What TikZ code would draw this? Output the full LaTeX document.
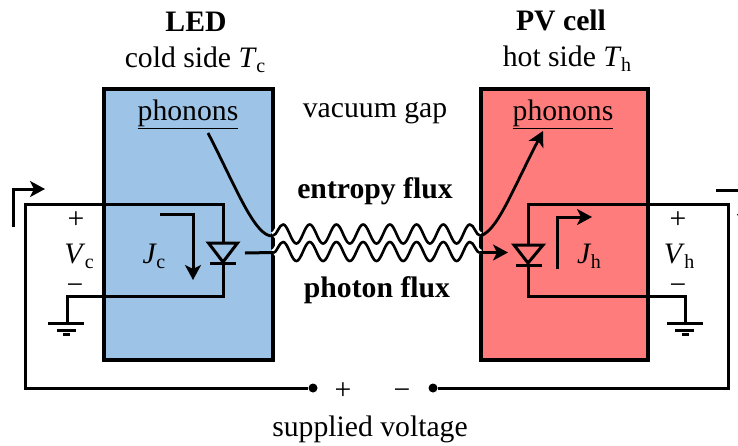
\documentclass[tikz,border=0pt]{standalone}
\usepackage{fontspec}
\setmainfont{Liberation Serif}
\usetikzlibrary{arrows.meta}
\definecolor{ledblue}{RGB}{157,195,230}
\definecolor{pvred}{RGB}{255,124,124}
\newcommand{\qtysym}[2]{\textit{#1}\kern-0.5pt\raisebox{-5pt}{\fontsize{20}{22}\selectfont #2}}
\tikzset{
  panel/.style={draw=black,line width=3.4pt,minimum height=0pt},
  wire/.style={line width=3pt,line cap=butt,line join=miter},
  flow/.style={line width=3pt,-{Stealth[length=15pt,width=16pt,inset=4pt]}},
  curve/.style={line width=2.8pt},
  wave/.style={line width=2.6pt,line join=round},
  halo/.style={line width=7pt,white},
  lbl/.style={anchor=base,inner sep=0pt,font=\fontsize{29.7}{33}\selectfont},
  blbl/.style={lbl,font=\fontsize{29.7}{33}\selectfont\bfseries},
  dot/.style={circle,fill=black,inner sep=0pt,minimum size=9pt}
}
\newcommand{\wavepath}[1]{(273,#1+1.5) .. controls (277,#1+1.5) and (279,#1-9.5) .. (283,#1-9.5)
  -- plot[domain=283:470,samples=220] (\x,{#1-9.5*cos(13.478*(\x-283))})
  .. controls (474,#1-9.5) and (476,#1+1.5) .. (480,#1+1.5)}
\begin{document}
\begin{tikzpicture}[x=1pt,y=-1pt]
\useasboundingbox (0,0) rectangle (738,445);
\clip (0,0) rectangle (738,445);
% panels
\node[panel,fill=ledblue,minimum width=169pt,minimum height=271pt,inner sep=0pt] (led) at (188.5,224.5) {};
\node[panel,fill=pvred,minimum width=167pt,minimum height=271pt,inner sep=0pt] (pv) at (564.5,224.5) {};
% coordinates
\coordinate (ltop) at (223,204); \coordinate (lbot) at (223,296);
\coordinate (lgnd) at (67,296); \coordinate (lg1) at (67,323.5);
\coordinate (ldA) at (223,243); \coordinate (ldK) at (223,263.5);
\coordinate (rtop) at (528,204); \coordinate (rbot) at (528,296);
\coordinate (rgnd) at (685,296); \coordinate (rg1) at (685,323.5);
\coordinate (rdA) at (528,245); \coordinate (rdK) at (528,265);
\coordinate (lcorner) at (25,204); \coordinate (lcorner2) at (25,388);
\coordinate (rcorner) at (728,204); \coordinate (rcorner2) at (728,388);
\node[dot] (dotL) at (313,388) {};
\node[dot] (dotR) at (433,388) {};
% circuit left
\draw[wire] (ldA) -- (ltop) -- (lcorner) -- (lcorner2) -- (dotL);
\draw[wire] (ldK) -- (lbot) -- (lgnd) -- (lg1);
\draw[wire,line join=miter] (208.5,243) -- (237.5,243) -- (223,262) -- cycle;
\draw[wire] (210,263.5) -- (236,263.5);
\draw[wire] (48,323.5) -- (84,323.5);
\draw[wire] (57,330) -- (76,330);
\draw[wire] (63,334.5) -- (70,334.5);
% circuit right
\draw[wire] (rdA) -- (rtop) -- (rcorner) -- (rcorner2) -- (dotR);
\draw[wire] (rdK) -- (rbot) -- (rgnd) -- (rg1);
\draw[wire,line join=miter] (514,245) -- (543,245) -- (528,263) -- cycle;
\draw[wire] (516,265) -- (542,265);
\draw[wire] (667,323.5) -- (703,323.5);
\draw[wire] (675,330) -- (694,330);
\draw[wire] (682,334.5) -- (689,334.5);
% current arrows
\coordinate (a1) at (13,227); \coordinate (a1b) at (13,189); \coordinate (a1c) at (45,189);
\draw[flow] (a1) -- (a1b) -- (a1c);
\coordinate (j1) at (160,214); \coordinate (j1b) at (193,214); \coordinate (j1c) at (193,280);
\draw[flow] (j1) -- (j1b) -- (j1c);
\coordinate (j2) at (557,269); \coordinate (j2b) at (557,217); \coordinate (j2c) at (592,217);
\draw[flow] (j2) -- (j2b) -- (j2c);
\coordinate (a2) at (716,190); \coordinate (a2b) at (745,190); \coordinate (a2c) at (745,229);
\draw[flow] (a2) -- (a2b) -- (a2c);
% waves
\draw[halo] \wavepath{234};
\draw[wave] \wavepath{234};
\draw[halo] \wavepath{251.5};
\draw[wave] \wavepath{251.5};
% phonon curves
\coordinate (pL) at (208,133); \coordinate (wL) at (273,236);
\coordinate (wR) at (480,236); \coordinate (pR) at (543,131);
\draw[curve] (pL) .. controls (235,185) and (255,238) .. (wL);
\draw[curve,-{Stealth[length=15pt,width=16pt,inset=4pt]}] (wR) .. controls (497,231) and (510,195) .. (pR);
% photon lines
\coordinate (in1) at (245,253); \coordinate (in2) at (273,252.5);
\coordinate (ph1) at (480,252.5); \coordinate (ph2) at (508,252.5);
\draw[wire] (in1) -- (in2);
\draw[flow] (ph1) -- (ph2);
% labels
\node[blbl] (t1) at (196,31) {LED};
\node[lbl] (t2) at (195,67) {cold side \qtysym{T}{c}};
\node[blbl] (t3) at (561,30) {PV cell};
\node[lbl] (t4) at (567,66) {hot side \qtysym{T}{h}};
\node[lbl] (t5) at (188,120) {\underline{phonons}};
\node[lbl] (t6) at (563,120) {\underline{phonons}};
\node[lbl] (t7) at (375,117) {vacuum gap};
\node[blbl] (t8) at (375,198) {entropy flux};
\node[blbl] (t9) at (377,297) {photon flux};
\node[lbl] (t10) at (370,436) {supplied voltage};
\node[lbl] (v1) at (76,228) {+};
\node[lbl] (v2) at (79,263) {\qtysym{V}{c}};
\node[lbl] (v3) at (75,294) {−};
\node[lbl] (v4) at (154,263) {\qtysym{J}{c}};
\node[lbl] (v5) at (589,263) {\qtysym{J}{h}};
\node[lbl] (v6) at (678,228) {+};
\node[lbl] (v7) at (679,263) {\qtysym{V}{h}};
\node[lbl] (v8) at (678,294) {−};
\node[lbl] (s1) at (343,399) {+};
\node[lbl] (s2) at (402,399) {−};
\end{tikzpicture}
\end{document}
